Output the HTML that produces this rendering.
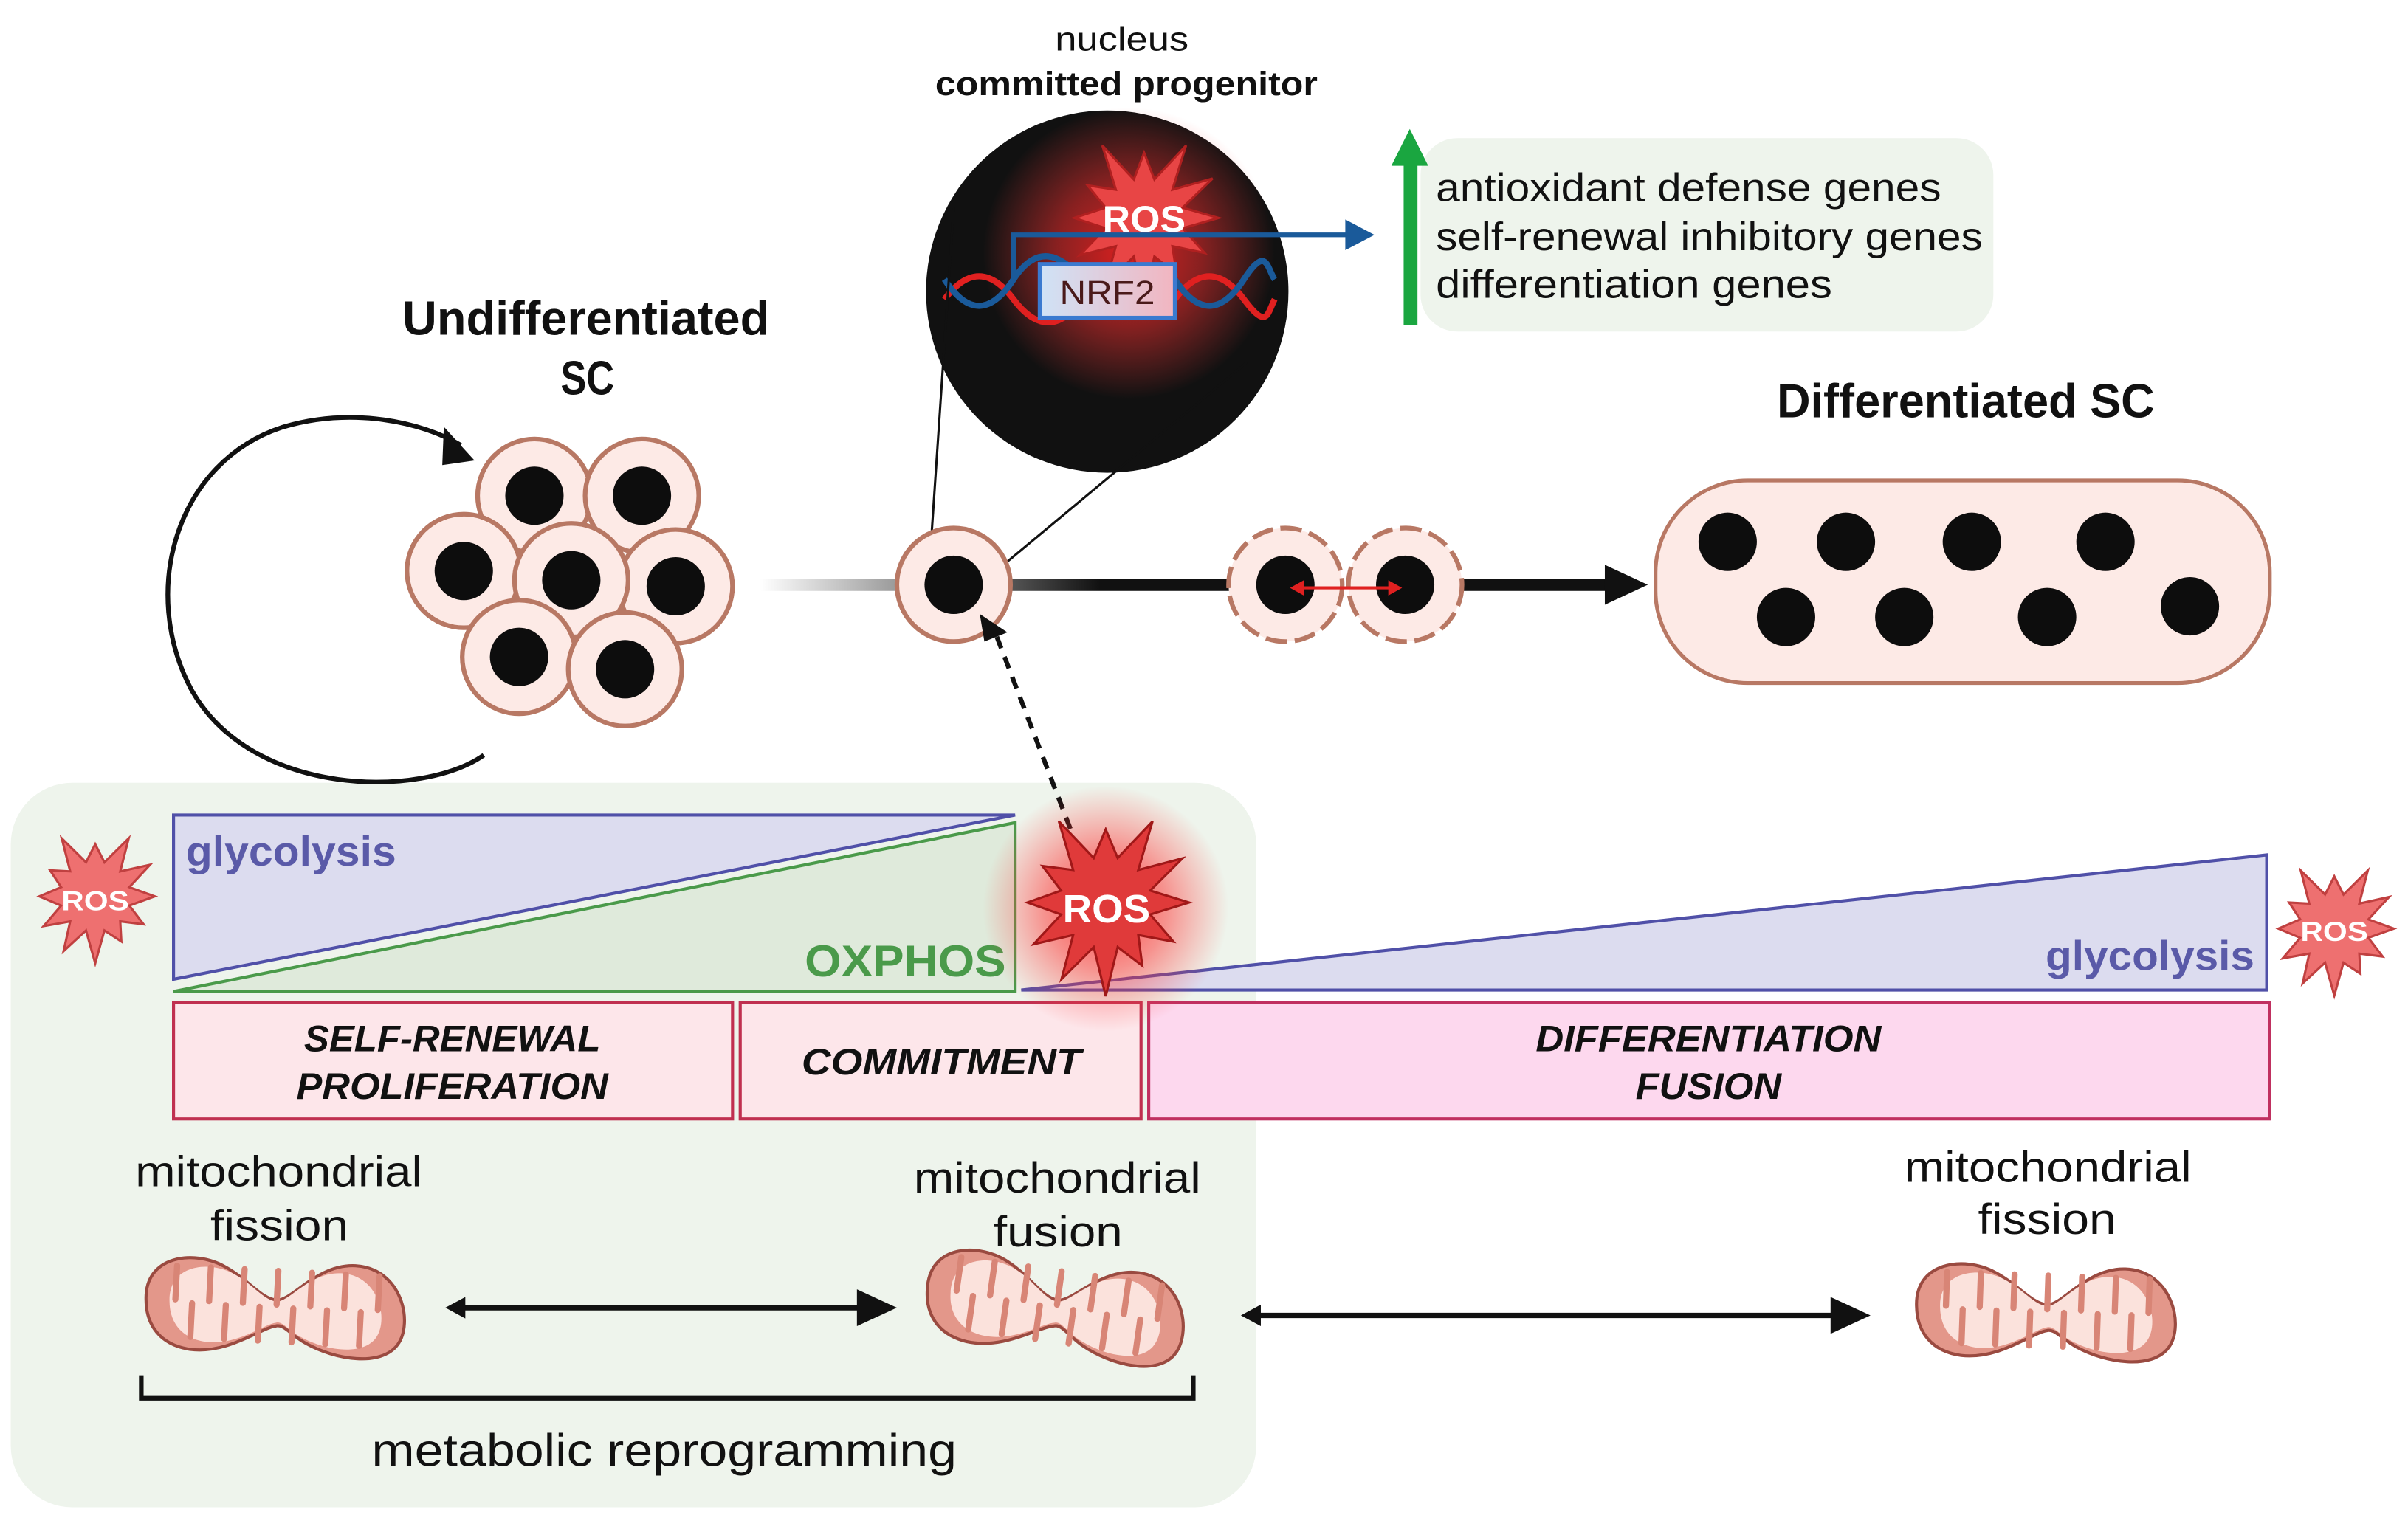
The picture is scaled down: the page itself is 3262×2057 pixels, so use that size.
<!DOCTYPE html>
<html><head><meta charset="utf-8">
<style>
html,body{margin:0;padding:0;background:#fff;}
svg{display:block;}
text{font-family:"Liberation Sans",sans-serif;}
</style></head>
<body>
<svg id="s" width="3262" height="2057" viewBox="0 0 1568 989" preserveAspectRatio="none" xmlns="http://www.w3.org/2000/svg">
<defs>
<radialGradient id="glow"><stop offset="0" stop-color="#ff2020" stop-opacity="0.85"/><stop offset="0.5" stop-color="#ff3030" stop-opacity="0.5"/><stop offset="1" stop-color="#ff4040" stop-opacity="0"/></radialGradient>
<linearGradient id="g1" x1="0" x2="1"><stop offset="0" stop-color="#fff"/><stop offset="1" stop-color="#999"/></linearGradient>
<linearGradient id="g2" x1="0" x2="1"><stop offset="0" stop-color="#555"/><stop offset="0.4" stop-color="#111"/><stop offset="1" stop-color="#111"/></linearGradient>
<linearGradient id="nrf" x1="0" x2="1"><stop offset="0" stop-color="#cfe3f7"/><stop offset="1" stop-color="#f2b5c0"/></linearGradient>
</defs>

<rect x="7" y="510" width="811" height="472" rx="40" fill="#eef4ec"/>
<rect x="925" y="90" width="373" height="126" rx="24" fill="#eef4ec"/>

<text x="687" y="33" font-size="22" textLength="87" lengthAdjust="spacingAndGlyphs" fill="#111">nucleus</text>
<text x="609" y="62" font-size="22" font-weight="bold" textLength="249" lengthAdjust="spacingAndGlyphs" fill="#111">committed progenitor</text>
<text x="262" y="218" font-size="31" font-weight="bold" textLength="239" lengthAdjust="spacingAndGlyphs" fill="#111">Undifferentiated</text>
<text x="365" y="257" font-size="31" font-weight="bold" textLength="35" lengthAdjust="spacingAndGlyphs" fill="#111">SC</text>
<text x="1157" y="272" font-size="31" font-weight="bold" textLength="246" lengthAdjust="spacingAndGlyphs" fill="#111">Differentiated SC</text>
<text x="935" y="131" font-size="26" textLength="329" lengthAdjust="spacingAndGlyphs" fill="#111">antioxidant defense genes</text>
<text x="935" y="163" font-size="26" textLength="356" lengthAdjust="spacingAndGlyphs" fill="#111">self-renewal inhibitory genes</text>
<text x="935" y="194" font-size="26" textLength="258" lengthAdjust="spacingAndGlyphs" fill="#111">differentiation genes</text>

<rect x="914" y="105" width="9" height="107" fill="#1aa640"/>
<path d="M906,108 L918,84 L930,108z" fill="#1aa640"/>

<ellipse cx="721" cy="190" rx="118" ry="118" fill="#111"/>
<circle cx="735" cy="165" r="95" fill="url(#glow)"/>
<g id="starNuc"></g>
<g stroke-width="4" fill="none">
<path d="M615,195 C630,175 645,175 660,195 S690,215 705,195" stroke="#e02020"/>
<path d="M615,182 C630,205 645,205 660,182 S690,165 705,182" stroke="#1a5a9a"/>
<path d="M765,195 C780,175 795,175 810,195 S825,205 830,195" stroke="#e02020"/>
<path d="M765,182 C780,205 795,205 810,182 S825,175 830,182" stroke="#1a5a9a"/>
</g>
<rect x="677" y="172" width="88" height="35" fill="url(#nrf)" stroke="#3a7ad0" stroke-width="2.5"/>
<text x="690" y="198" font-size="22" textLength="62" lengthAdjust="spacingAndGlyphs" fill="#4a1a1a">NRF2</text>
<path d="M660,182 L660,153 L878,153" stroke="#1a5a9a" stroke-width="3" fill="none"/>
<path d="M876,143 L895,153 L876,163z" fill="#1a5a9a"/>
<text x="718" y="151" font-size="24" font-weight="bold" textLength="54" lengthAdjust="spacingAndGlyphs" fill="#fff">ROS</text>

<line x1="605" y1="372" x2="621" y2="135" stroke="#111" stroke-width="1.5"/>
<line x1="645" y1="375" x2="812" y2="236" stroke="#111" stroke-width="1.5"/>

<path d="M315,492 C275,520 165,520 125,450 C90,385 115,300 185,278 C230,265 275,275 300,290" fill="none" stroke="#111" stroke-width="3"/>
<path d="M289,278 L309,300 L288,303z" fill="#111"/>

<rect x="495" y="377" width="90" height="8" fill="url(#g1)"/>
<rect x="658" y="377" width="145" height="8" fill="url(#g2)"/>
<rect x="953" y="377" width="95" height="8" fill="#111"/>
<path d="M1045,368 L1073,381 L1045,394z" fill="#111"/>

<g id="cells"></g>

<rect x="1078" y="313" width="400" height="132" rx="60" fill="#fdeae6" stroke="#b87864" stroke-width="2.5"/>
<g fill="#0d0d0d">
<circle cx="1125" cy="353" r="19"/><circle cx="1202" cy="353" r="19"/><circle cx="1284" cy="353" r="19"/><circle cx="1371" cy="353" r="19"/>
<circle cx="1163" cy="402" r="19"/><circle cx="1240" cy="402" r="19"/><circle cx="1333" cy="402" r="19"/><circle cx="1426" cy="395" r="19"/>
</g>

<line x1="697" y1="540" x2="648" y2="412" stroke="#111" stroke-width="3" stroke-dasharray="8,6"/>
<path d="M638,400 L656,412 L641,418z" fill="#111"/>

<polygon points="113,531 661,531 113,638" fill="#dcdcef" stroke="#5050a8" stroke-width="2"/>
<polygon points="113,646 661,536 661,646" fill="#dfeadb" stroke="#4a9a4a" stroke-width="2"/>
<polygon points="665,645 1476,557 1476,645" fill="#dcdcef" stroke="#5050a8" stroke-width="2"/>
<text x="121" y="564" font-size="27" font-weight="bold" textLength="137" lengthAdjust="spacingAndGlyphs" fill="#5a5aa8">glycolysis</text>
<text x="524" y="636" font-size="29" font-weight="bold" textLength="131" lengthAdjust="spacingAndGlyphs" fill="#4a9a4a">OXPHOS</text>
<text x="1332" y="632" font-size="27" font-weight="bold" textLength="136" lengthAdjust="spacingAndGlyphs" fill="#5a5aa8">glycolysis</text>

<rect x="113" y="653" width="364" height="76" fill="#fde6ea" stroke="#c03050" stroke-width="2"/>
<rect x="482" y="653" width="261" height="76" fill="#fde6ea" stroke="#c03050" stroke-width="2"/>
<rect x="748" y="653" width="730" height="76" fill="#fdd8ee" stroke="#c03060" stroke-width="2"/>
<g font-size="24" font-weight="bold" font-style="italic" fill="#111">
<text x="198" y="685" textLength="193" lengthAdjust="spacingAndGlyphs">SELF-RENEWAL</text>
<text x="193" y="716" textLength="203" lengthAdjust="spacingAndGlyphs">PROLIFERATION</text>
<text x="522" y="700" textLength="182" lengthAdjust="spacingAndGlyphs">COMMITMENT</text>
<text x="1000" y="685" textLength="225" lengthAdjust="spacingAndGlyphs">DIFFERENTIATION</text>
<text x="1065" y="716" textLength="95" lengthAdjust="spacingAndGlyphs">FUSION</text>
</g>

<circle cx="720" cy="592" r="80" fill="url(#glow)"/>
<g id="stars"></g>
<text x="692" y="601" font-size="26" font-weight="bold" textLength="57" lengthAdjust="spacingAndGlyphs" fill="#fff">ROS</text>
<text x="40" y="593" font-size="18" font-weight="bold" textLength="44" lengthAdjust="spacingAndGlyphs" fill="#fff">ROS</text>
<text x="1498" y="613" font-size="18" font-weight="bold" textLength="44" lengthAdjust="spacingAndGlyphs" fill="#fff">ROS</text>

<g font-size="28" fill="#111">
<text x="88" y="773" textLength="187" lengthAdjust="spacingAndGlyphs">mitochondrial</text>
<text x="137" y="808" textLength="90" lengthAdjust="spacingAndGlyphs">fission</text>
<text x="595" y="777" textLength="187" lengthAdjust="spacingAndGlyphs">mitochondrial</text>
<text x="647" y="812" textLength="84" lengthAdjust="spacingAndGlyphs">fusion</text>
<text x="1240" y="770" textLength="187" lengthAdjust="spacingAndGlyphs">mitochondrial</text>
<text x="1288" y="804" textLength="90" lengthAdjust="spacingAndGlyphs">fission</text>
<text x="242" y="955" font-size="30" textLength="381" lengthAdjust="spacingAndGlyphs">metabolic reprogramming</text>
</g>
<g id="mitos"></g>

<line x1="300" y1="852" x2="562" y2="852" stroke="#111" stroke-width="3.5"/>
<path d="M290,852 L303,845 L303,859z" fill="#111"/>
<path d="M558,840 L584,852 L558,864z" fill="#111"/>
<line x1="818" y1="857" x2="1195" y2="857" stroke="#111" stroke-width="3.5"/>
<path d="M808,857 L821,850 L821,864z" fill="#111"/>
<path d="M1192,845 L1218,857 L1192,869z" fill="#111"/>

<path d="M92,896 L92,911 L777,911 L777,896" fill="none" stroke="#111" stroke-width="3"/>
</svg>
<script>
var NS="http://www.w3.org/2000/svg";
function el(p,t,a){var e=document.createElementNS(NS,t);for(var k in a)e.setAttribute(k,a[k]);p.appendChild(e);return e;}
function star(p,cx,cy,ro,ri,n,fill,stroke,rot){var pts=[];for(var i=0;i<2*n;i++){var r=i%2?ri:ro;var a=Math.PI*i/n+(rot||0);r*= (i%2?1:(0.85+0.3*((i*7)%5)/5));pts.push((cx+r*Math.sin(a)).toFixed(1)+","+(cy-r*Math.cos(a)).toFixed(1));}el(p,"polygon",{points:pts.join(" "),fill:fill,stroke:stroke,"stroke-width":1.5});}
star(document.getElementById("starNuc"),745,142,50,26,12,"#e84545","#b02020");
var st=document.getElementById("stars");
star(st,720,588,56,30,12,"#e03a3a","#a01818");
star(st,62,584,40,23,12,"#ee7070","#c04040");
star(st,1520,605,40,23,12,"#ee7070","#c04040");
var cg=document.getElementById("cells");
function cell(x,y,dash){el(cg,"circle",{cx:x,cy:y,r:37,fill:"#fdeae6",stroke:"#b87864","stroke-width":3,"stroke-dasharray":dash||"none"});el(cg,"circle",{cx:x,cy:y,r:19,fill:"#0d0d0d"});}
[[348,323],[418,323],[302,372],[440,382],[372,378],[338,428],[407,436]].forEach(function(c){cell(c[0],c[1]);});
cell(621,381);cell(837,381,"14,5");cell(915,381,"14,5");
el(cg,"line",{x1:846,y1:383,x2:906,y2:383,stroke:"#e02020","stroke-width":2});
el(cg,"path",{d:"M840,383 L849,378 L849,388z",fill:"#e02020"});
el(cg,"path",{d:"M913,383 L904,378 L904,388z",fill:"#e02020"});
var mg=document.getElementById("mitos");
function mito(cx,cy,rot){var g=el(mg,"g",{transform:"translate("+cx+","+cy+") rotate("+rot+")"});
var d="M-85,0 C-88,-30 -55,-35 -35,-25 C-20,-18 -10,-5 0,-5 C10,-5 25,-30 50,-30 C80,-30 90,5 80,20 C70,35 40,32 20,22 C10,17 5,10 0,12 C-10,14 -30,32 -55,30 C-75,28 -84,15 -85,0z";
el(g,"path",{d:d,fill:"#e3978a",stroke:"#9a4a40","stroke-width":2});
el(g,"path",{d:d,fill:"#fbe2dc",transform:"scale(0.82)"});
for(var i=-66;i<=66;i+=11){var top=(Math.round(i/11)%2==0);
 el(g,"line",{x1:i,y1:top?-24:22,x2:i,y2:top?-2:0,stroke:"#d88576","stroke-width":4,"stroke-linecap":"round"});}}
mito(180,852,3);mito(688,852,8);mito(1333,855,2);
</script>
</body></html>
